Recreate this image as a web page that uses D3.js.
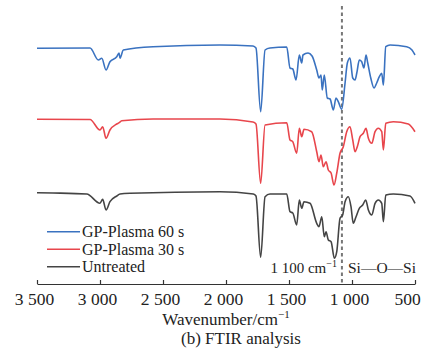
<!DOCTYPE html>
<html>
<head>
<meta charset="utf-8">
<script src="https://cdn.jsdelivr.net/npm/d3@7"></script>
<style>
  html, body { margin: 0; padding: 0; background: #fff; }
  text { font-family: "Liberation Serif", "Times New Roman", serif; fill: #222; }
</style>
</head>
<body>
<div id="chart"></div>
<script>
// wavenumber (cm-1) vs offset transmittance (a.u.)
var plasma60 = [
  [3500, 235.7], [3079, 236], [3013, 224], [2986, 225.7], [2952, 214], [2921, 222.3],
  [2867, 227.3], [2849, 231], [2841, 225.7], [2815, 234], [2579, 237.3], [2048, 239],
  [1786, 238], [1762, 236], [1725, 172.3], [1690, 234], [1651, 236], [1518, 237],
  [1492, 216], [1470, 215], [1444, 204], [1418, 229], [1399, 221], [1389, 229],
  [1349, 231], [1317, 228], [1280, 214], [1262, 206], [1246, 209], [1236, 194],
  [1220, 209], [1196, 186], [1174, 185], [1148, 174], [1127, 186], [1109, 182.3],
  [1082, 174.7], [1055, 201], [1037, 221], [1016, 226], [994, 206], [976, 204],
  [962, 211], [942, 224], [923, 222.3], [905, 216], [889, 229], [875, 221],
  [851, 206], [825, 196], [804, 201], [783, 207.3], [764, 210.7], [751, 199],
  [732, 237.3], [698, 239], [566, 237.3], [524, 234], [500, 229]
];
var plasma30 = [
  [3500, 164.7], [3079, 164.5], [3000, 154], [2979, 157.3], [2952, 145.7], [2921, 154],
  [2867, 160], [2847, 161.3], [2828, 163.3], [2579, 165], [2048, 165], [1786, 162],
  [1762, 160], [1725, 100.7], [1690, 159], [1518, 161.3], [1492, 144], [1470, 142.3],
  [1439, 130.7], [1418, 155.7], [1399, 147.3], [1381, 154.7], [1320, 152.3], [1280, 132.3],
  [1262, 122.3], [1246, 129], [1228, 117.3], [1206, 122.3], [1188, 114], [1166, 111],
  [1143, 99], [1121, 111], [1095, 130.7], [1069, 137.3], [1042, 152.3], [1016, 157.3],
  [994, 144], [976, 132.3], [958, 137.3], [936, 147.3], [910, 150.7], [889, 155.7],
  [870, 145.7], [843, 140.7], [817, 152.3], [791, 155.7], [764, 152.3], [751, 134],
  [732, 160.7], [672, 162.3], [553, 160], [500, 152.3]
];
var untreated = [
  [3500, 91.3], [3373, 91], [3105, 90], [3000, 80.7], [2979, 84.7], [2952, 74],
  [2921, 82.3], [2867, 88], [2841, 90], [2762, 90.7], [2048, 92.3], [1783, 90],
  [1762, 88], [1725, 26.7], [1690, 87.3], [1651, 90], [1518, 90], [1492, 72.3],
  [1470, 71], [1439, 59], [1418, 84], [1399, 75.7], [1381, 82.3], [1333, 80.7],
  [1280, 60.7], [1262, 57.3], [1240, 67.3], [1220, 47.3], [1206, 52.3], [1188, 44],
  [1166, 42.3], [1140, 25.7], [1121, 32.3], [1095, 65.7], [1074, 69], [1055, 82.3],
  [1029, 87.3], [1008, 77.3], [990, 60.7], [968, 67.3], [942, 75.7], [915, 79],
  [891, 84], [870, 74], [843, 69], [817, 80.7], [791, 84], [764, 80.7], [751, 62.3],
  [732, 89], [672, 90], [540, 88], [500, 80.7]
];

var seriesNames = ["GP-Plasma 60 s", "GP-Plasma 30 s", "Untreated"];
var seriesColors = ["#3a72c0", "#e8464c", "#444444"];
var xTicks = [3500, 3000, 2500, 2000, 1500, 1000, 500];
var markerWn = 1080;

var width = 427, height = 362;
var margin = {top: 4, right: 12, bottom: 78, left: 37};

var svg = d3.select("#chart").append("svg")
    .attr("width", width)
    .attr("height", height);

var x = d3.scaleLinear()
    .domain([3500, 500])
    .range([margin.left, width - margin.right]);

var y = d3.scaleLinear()
    .domain([0, 280])
    .range([height - margin.bottom, margin.top]);

var fmt = d3.formatLocale({decimal: ".", thousands: " ", grouping: [3], currency: ["", ""]}).format(",d");

// axis
var axis = svg.append("g")
    .attr("transform", "translate(0," + (height - margin.bottom) + ")")
    .call(d3.axisBottom(x).tickValues(xTicks).tickFormat(fmt).tickSizeInner(-4).tickSizeOuter(0));
axis.select(".domain").attr("stroke", "#333").attr("stroke-width", 1.2);
axis.selectAll(".tick line").attr("stroke", "#333").attr("stroke-width", 1.2);
axis.selectAll(".tick text")
    .attr("font-size", 17.5)
    .attr("fill", "#222")
    .attr("dy", null)
    .attr("y", 21)
    .attr("x", function(d) { return d === 500 ? -8 : -3; });

// dashed marker
svg.append("line")
    .attr("x1", x(markerWn)).attr("x2", x(markerWn))
    .attr("y1", 6).attr("y2", height - margin.bottom)
    .attr("stroke", "#777")
    .attr("stroke-width", 2)
    .attr("stroke-dasharray", "3.5,3");

var line = d3.line()
    .x(function(d) { return x(d[0]); })
    .y(function(d) { return y(d[1]); })
    .curve(d3.curveMonotoneX);

[plasma60, plasma30, untreated].forEach(function(s, i) {
    svg.append("path")
        .datum(s)
        .attr("fill", "none")
        .attr("stroke", seriesColors[i])
        .attr("stroke-width", 1.6)
        .attr("stroke-linejoin", "round")
        .attr("d", line);
});

// legend
var legend = svg.append("g");
seriesNames.forEach(function(name, i) {
    var ly = 231.7 + i * 17.5;
    legend.append("line")
        .attr("x1", 47).attr("x2", 80)
        .attr("y1", ly).attr("y2", ly)
        .attr("stroke", seriesColors[i])
        .attr("stroke-width", 1.5);
    legend.append("text")
        .attr("x", 82).attr("y", ly + 5.5)
        .attr("font-size", 16)
        .text(name);
});

// annotations
var ann = svg.append("text")
    .attr("x", x(markerWn) - 5).attr("y", 273)
    .attr("text-anchor", "end")
    .attr("font-size", 15);
ann.append("tspan").text("1 100 cm");
ann.append("tspan").attr("font-size", 10).attr("dy", -6).text("\u22121");

svg.append("text")
    .attr("x", 348).attr("y", 273)
    .attr("font-size", 15.5)
    .text("Si\u2014O\u2014Si");

// axis title & caption
var xt = svg.append("text")
    .attr("x", 226).attr("y", 325)
    .attr("text-anchor", "middle")
    .attr("font-size", 17);
xt.append("tspan").text("Wavenumber/cm");
xt.append("tspan").attr("font-size", 11).attr("dy", -7).text("\u22121");

svg.append("text")
    .attr("x", 241).attr("y", 344)
    .attr("text-anchor", "middle")
    .attr("font-size", 17)
    .text("(b) FTIR analysis");
</script>
</body>
</html>
